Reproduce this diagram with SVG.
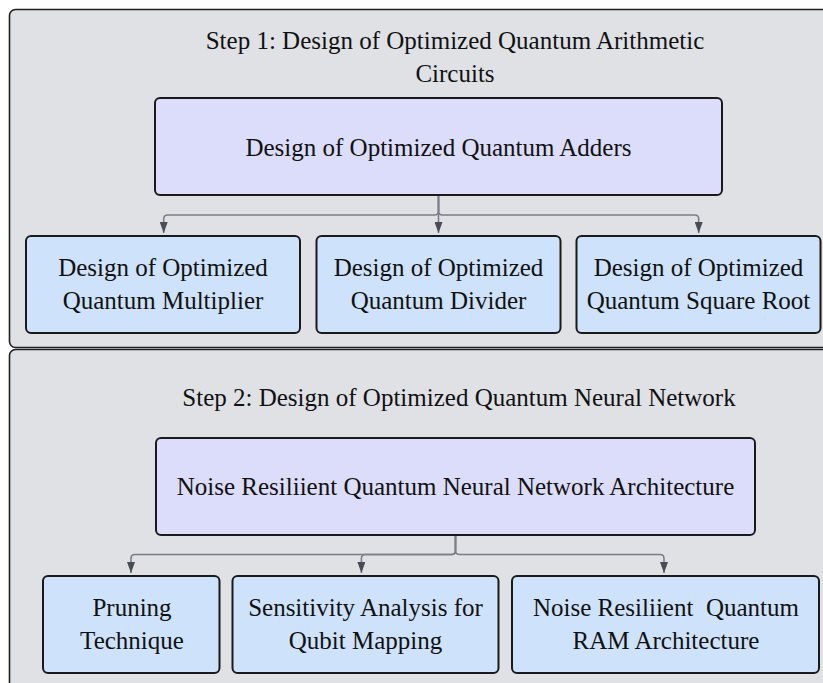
<svg xmlns="http://www.w3.org/2000/svg" width="823" height="683" viewBox="0 0 823 683">
  <defs>
    <marker id="arrow" viewBox="0 0 8 11" refX="4" refY="11" markerWidth="8" markerHeight="11" markerUnits="userSpaceOnUse" orient="0" preserveAspectRatio="none">
      <path d="M0,0 L8,0 L4,11 z" fill="#474c56"/>
    </marker>
  </defs>
  <style>
    .cluster { fill: #dfe1e5; stroke: #1f1f1f; stroke-width: 1.6; }
    .parent { fill: #dcdcfb; stroke: #1a1a1a; stroke-width: 2; }
    .child { fill: #cee2fb; stroke: #1a1a1a; stroke-width: 2; }
    text { font-family: 'Liberation Serif', serif; font-size: 25px; fill: #111; text-anchor: middle; }
    .edge { fill: none; stroke: #7a7e86; stroke-width: 1.6; marker-end: url(#arrow); }
  </style>

  <g id="step1">
    <rect class="cluster" x="9.5" y="9.5" width="840" height="338" rx="6"/>
    <text x="455" y="49">Step 1: Design of Optimized Quantum Arithmetic</text>
    <text x="455" y="82">Circuits</text>
  </g>
  <g id="step2">
    <rect class="cluster" x="9.5" y="349.5" width="840" height="360" rx="6"/>
    <text x="459" y="406">Step 2: Design of Optimized Quantum Neural Network</text>
  </g>

  <g id="connectors">
    <path class="edge" d="M438.5,195 V211 Q438.5,215 434.5,215 H167.7 Q163.7,215 163.7,219 V233"/>
    <path class="edge" d="M438.5,195 V233"/>
    <path class="edge" d="M438.5,195 V211 Q438.5,215 442.5,215 H694.7 Q698.7,215 698.7,219 V233"/>
    <path class="edge" d="M455.5,535 V550.5 Q455.5,554.5 451.5,554.5 H135 Q131,554.5 131,558.5 V573"/>
    <path class="edge" d="M455.5,535 V550.5 Q455.5,554.5 451.5,554.5 H365.4 Q361.4,554.5 361.4,558.5 V573"/>
    <path class="edge" d="M455.5,535 V550.5 Q455.5,554.5 459.5,554.5 H660 Q664,554.5 664,558.5 V573"/>
  </g>

  <g id="adders">
    <rect class="parent" x="155" y="98" width="567" height="97" rx="5"/>
    <text x="438.5" y="155.5">Design of Optimized Quantum Adders</text>
  </g>
  <g id="multiplier">
    <rect class="child" x="26" y="236" width="274" height="97" rx="5"/>
    <text x="163" y="275.5">Design of Optimized</text>
    <text x="163" y="308.5">Quantum Multiplier</text>
  </g>
  <g id="divider">
    <rect class="child" x="316.5" y="236" width="244" height="97" rx="5"/>
    <text x="438.5" y="275.5">Design of Optimized</text>
    <text x="438.5" y="308.5">Quantum Divider</text>
  </g>
  <g id="squareroot">
    <rect class="child" x="576.5" y="236" width="244" height="97" rx="5"/>
    <text x="698.5" y="275.5">Design of Optimized</text>
    <text x="698.5" y="308.5">Quantum Square Root</text>
  </g>

  <g id="qnn">
    <rect class="parent" x="156" y="438" width="599" height="97" rx="5"/>
    <text x="455.5" y="495">Noise Resiliient Quantum Neural Network Architecture</text>
  </g>
  <g id="pruning">
    <rect class="child" x="43" y="576" width="176.5" height="97" rx="5"/>
    <text x="132" y="615.5">Pruning</text>
    <text x="132" y="648.5">Technique</text>
  </g>
  <g id="sensitivity">
    <rect class="child" x="232.5" y="576" width="266" height="97" rx="5"/>
    <text x="365.5" y="615.5">Sensitivity Analysis for</text>
    <text x="365.5" y="648.5">Qubit Mapping</text>
  </g>
  <g id="qram">
    <rect class="child" x="512" y="576" width="307" height="97" rx="5"/>
    <text x="666" y="615.5" style="white-space:pre">Noise Resiliient  Quantum</text>
    <text x="666" y="648.5">RAM Architecture</text>
  </g>
</svg>
